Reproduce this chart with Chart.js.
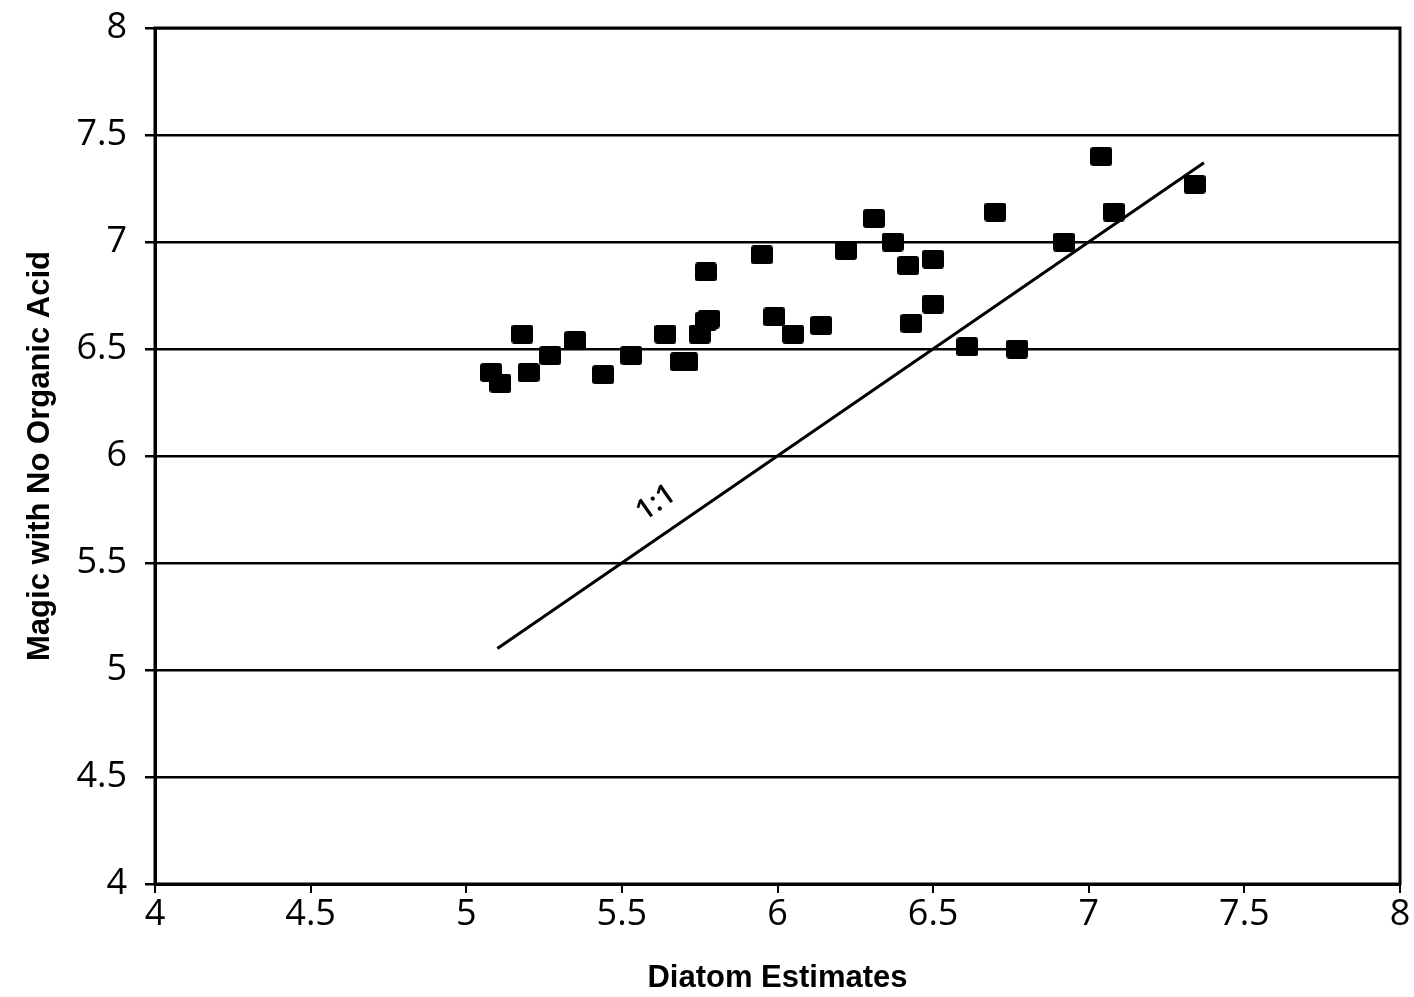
<!DOCTYPE html>
<html>
<head>
<meta charset="utf-8">
<script src="https://cdn.jsdelivr.net/npm/chart.js@4.4.1/dist/chart.umd.min.js"></script>
<style>
  html, body { margin: 0; padding: 0; background: #fff; }
  #wrap { width: 1414px; height: 997px; }
</style>
</head>
<body>
<div id="wrap"><canvas id="scatterChart"></canvas></div>
<script>
// diatom estimates (x) vs magic with no organic acid (y)
const diatomX = [5.08, 5.11, 5.18, 5.20, 5.27, 5.35, 5.44, 5.53, 5.64, 5.69, 5.71,
  5.75, 5.77, 5.78, 5.77, 5.95, 5.99, 6.05, 6.14, 6.22, 6.31, 6.37, 6.42, 6.43,
  6.50, 6.50, 6.61, 6.70, 6.77, 6.92, 7.04, 7.08, 7.34];
const magicY = [6.39, 6.34, 6.57, 6.39, 6.47, 6.54, 6.38, 6.47, 6.57, 6.44, 6.44,
  6.57, 6.63, 6.64, 6.86, 6.94, 6.65, 6.57, 6.61, 6.96, 7.11, 7.00, 6.89, 6.62,
  6.92, 6.71, 6.51, 7.14, 6.50, 7.00, 7.40, 7.14, 7.27];
const oneToOne = [5.1, 7.37];
const axisTicks = [4, 4.5, 5, 5.5, 6, 6.5, 7, 7.5, 8];

const points = diatomX.map((x, i) => ({ x: x, y: magicY[i] }));
const linePts = oneToOne.map(v => ({ x: v, y: v }));

// square marker, a little wider than tall like the scan
const marker = document.createElement("canvas");
marker.width = 22;
marker.height = 19;
const mctx = marker.getContext("2d");
mctx.fillStyle = "#000";
mctx.beginPath();
mctx.roundRect(0, 0, 22, 19, 3);
mctx.fill();

const boxPlugin = {
  id: "box",
  afterDatasetsDraw(chart) {
    const { ctx, chartArea: a, scales } = chart;
    ctx.save();
    ctx.strokeStyle = "#000";
    ctx.lineWidth = 3;
    ctx.strokeRect(a.left, a.top, a.right - a.left, a.bottom - a.top);
    // "1:1" label along the line
    const px = scales.x.getPixelForValue(5.61);
    const py = scales.y.getPixelForValue(5.78);
    ctx.translate(px, py);
    ctx.rotate(-35 * Math.PI / 180);
    ctx.fillStyle = "#000";
    ctx.font = "600 29px 'Open Sans'";
    ctx.textAlign = "center";
    ctx.textBaseline = "middle";
    ctx.fillText("1:1", 0, 0);
    ctx.restore();
  }
};

const tickFont = { family: "'Open Sans', 'DejaVu Sans', sans-serif", size: 36, weight: "normal" };
const titleFont = { family: "'Liberation Sans', Arial, sans-serif", size: 31, weight: "bold" };

new Chart(document.getElementById("scatterChart"), {
  type: "scatter",
  data: {
    datasets: [{
      label: "Samples",
      data: points,
      pointStyle: marker,
      pointRadius: 11,
      pointHoverRadius: 11
    }, {
      type: "line",
      label: "1:1",
      data: linePts,
      borderColor: "#000",
      borderWidth: 3,
      pointRadius: 0,
      fill: false
    }]
  },
  plugins: [boxPlugin],
  options: {
    responsive: true,
    maintainAspectRatio: false,
    animation: false,
    layout: { padding: { top: 28, right: 14, left: 0, bottom: 0 } },
    plugins: {
      legend: { display: false },
      tooltip: { enabled: false }
    },
    scales: {
      x: {
        type: "linear",
        min: 4,
        max: 8,
        afterBuildTicks: s => { s.ticks = axisTicks.map(v => ({ value: v })); },
        afterFit: s => { s.height = 113; s.paddingLeft = 0; s.paddingRight = 0; },
        grid: {
          drawOnChartArea: false,
          drawTicks: true,
          tickLength: 9,
          color: "#000",
          lineWidth: 2
        },
        border: { display: true, color: "#000", width: 3 },
        ticks: {
          color: "#000",
          font: tickFont,
          padding: 0,
          maxRotation: 0,
          callback: v => String(v)
        },
        title: {
          display: true,
          text: "Diatom Estimates",
          color: "#000",
          font: titleFont,
          padding: { top: 0, bottom: 0 }
        }
      },
      y: {
        type: "linear",
        min: 4,
        max: 8,
        afterBuildTicks: s => { s.ticks = axisTicks.map(v => ({ value: v })); },
        afterFit: s => { s.width = 155; s.paddingTop = 0; s.paddingBottom = 0; },
        grid: {
          drawOnChartArea: true,
          drawTicks: true,
          tickLength: 10,
          color: "#000",
          lineWidth: 2.5
        },
        border: { display: true, color: "#000", width: 3 },
        ticks: {
          color: "#000",
          font: tickFont,
          padding: 18,
          callback: v => String(v)
        },
        title: {
          display: true,
          text: "Magic with No Organic Acid",
          color: "#000",
          font: titleFont,
          padding: { top: 22, bottom: 0 }
        }
      }
    }
  }
});
</script>
</body>
</html>
